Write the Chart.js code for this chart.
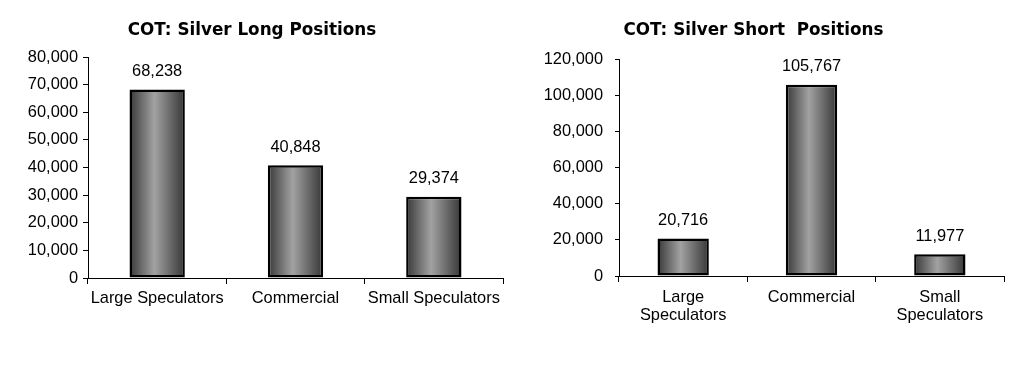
<!DOCTYPE html>
<html>
<head>
<meta charset="utf-8">
<script src="https://cdn.jsdelivr.net/npm/chart.js@4"></script>
<style>
  html, body { margin: 0; padding: 0; background: #fff; }
  body { width: 1029px; height: 370px; position: relative; overflow: hidden; }
  canvas { position: absolute; top: 0; }
  #c1 { left: 0; }
  #c2 { left: 515px; }
</style>
</head>
<body>
<canvas id="c1" width="515" height="370"></canvas>
<canvas id="c2" width="514" height="370"></canvas>
<script>
const longCategories = ['Large Speculators', 'Commercial', 'Small Speculators'];
const shortCategories = [['Large', 'Speculators'], ['Commercial'], ['Small', 'Speculators']];
const longValues = [68238, 40848, 29374];
const shortValues = [20716, 105767, 11977];
const longTitle = 'COT: Silver Long Positions';
const shortTitle = 'COT: Silver Short  Positions';
const longAxis = { min: 0, max: 80000, step: 10000 };
const shortAxis = { min: 0, max: 120000, step: 20000 };

const FONT = '"Liberation Sans", Arial, sans-serif';
const fmt = v => Number(v).toLocaleString('en-US');

function barGradient(ctx) {
  const chart = ctx.chart;
  const xs = chart.scales.x;
  if (!xs || !chart.chartArea) return '#808080';
  const cx = xs.getPixelForValue(ctx.dataIndex);
  const w = xs.width / xs.ticks.length * 0.4;
  const g = chart.ctx.createLinearGradient(cx - w / 2, 0, cx + w / 2, 0);
  g.addColorStop(0, '#383838');
  g.addColorStop(0.45, '#a2a2a2');
  g.addColorStop(1, '#363636');
  return g;
}

const labelPlugin = {
  id: 'valueLabels',
  afterDatasetsDraw(chart) {
    const c = chart.ctx;
    const meta = chart.getDatasetMeta(0);
    const data = chart.data.datasets[0].data;
    c.save();
    c.font = '16.4px ' + FONT;
    c.fillStyle = '#000';
    c.textAlign = 'center';
    c.textBaseline = 'middle';
    meta.data.forEach((el, i) => {
      c.fillText(fmt(data[i]), el.x, el.y - 18);
    });
    c.restore();
  }
};

const titlePlugin = {
  id: 'fixedTitle',
  afterDraw(chart, args, opts) {
    const c = chart.ctx;
    c.save();
    c.font = 'bold 16.8px "DejaVu Sans", Verdana, sans-serif';
    c.fillStyle = '#000';
    c.textAlign = 'center';
    c.textBaseline = 'middle';
    c.fillText(opts.text, opts.x, opts.y);
    c.restore();
  }
};

function makeChart(id, labels, values, axis, cfg) {
  return new Chart(document.getElementById(id), {
    type: 'bar',
    data: {
      labels: labels,
      datasets: [{
        data: values,
        backgroundColor: barGradient,
        borderColor: '#000',
        borderWidth: 2.5,
        borderSkipped: false,
        barPercentage: 0.4,
        categoryPercentage: 1.0
      }]
    },
    options: {
      responsive: false,
      animation: false,
      events: [],
      layout: { padding: { top: cfg.top, right: cfg.right, left: 0, bottom: 0 } },
      plugins: {
        legend: { display: false },
        tooltip: { enabled: false },
        title: { display: false },
        fixedTitle: { text: cfg.title, x: cfg.titleX, y: 30.5 }
      },
      scales: {
        x: {
          offset: true,
          grid: { display: true, offset: true, drawOnChartArea: false, drawTicks: true, tickLength: 6, color: '#000', lineWidth: 1 },
          border: { display: true, color: '#000', width: 1 },
          ticks: { color: '#000', font: { family: FONT, size: 16.4, lineHeight: 1.1 }, padding: cfg.xPad, maxRotation: 0, autoSkip: false },
          afterFit(scale) { scale.height = cfg.xHeight; }
        },
        y: {
          min: axis.min,
          max: axis.max,
          grid: { display: true, drawOnChartArea: false, drawTicks: true, tickLength: cfg.yTick, color: '#000', lineWidth: 1 },
          border: { display: true, color: '#000', width: 1 },
          ticks: { stepSize: axis.step, color: '#000', font: { family: FONT, size: 16.4 }, padding: cfg.yPad, callback: v => fmt(v) },
          afterFit(scale) { scale.width = cfg.yWidth; }
        }
      }
    },
    plugins: [labelPlugin, titlePlugin]
  });
}

makeChart('c1', longCategories, longValues, longAxis,
  { top: 57, right: 12, xHeight: 92, xPad: 5, yWidth: 88, yTick: 5, yPad: 5, title: longTitle, titleX: 252 });
makeChart('c2', shortCategories, shortValues, shortAxis,
  { top: 59, right: 25, xHeight: 94, xPad: 6, yWidth: 104, yTick: 4, yPad: 12, title: shortTitle, titleX: 238.5 });
</script>
</body>
</html>
